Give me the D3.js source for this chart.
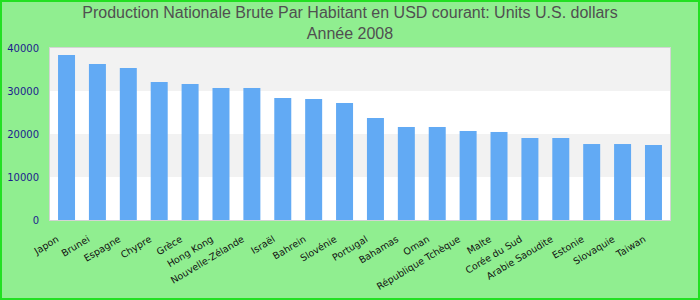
<!DOCTYPE html>
<html>
<head>
<meta charset="utf-8">
<script src="https://cdn.jsdelivr.net/npm/d3@7"></script>
<style>
  body { margin: 0; padding: 0; }
  svg { display: block; }
</style>
</head>
<body>
<div id="chart"></div>
<script>
// Production Nationale Brute par habitant, 2008
const countries = ["Japon", "Brunei", "Espagne", "Chypre", "Grèce", "Hong Kong", "Nouvelle-Zélande",
    "Israël", "Bahrein", "Slovénie", "Portugal", "Bahamas", "Oman", "République Tchèque", "Malte",
    "Corée du Sud", "Arabie Saoudite", "Estonie", "Slovaquie", "Taiwan"];
const values = [38370, 36280, 35350, 32090, 31630, 30700, 30700, 28370, 28140, 27210,
    23720, 21630, 21630, 20700, 20470, 19070, 19070, 17670, 17670, 17440];
const yTicks = [0, 10000, 20000, 30000, 40000];
const titleLines = ["Production Nationale Brute Par Habitant en USD courant: Units U.S. dollars", "Année 2008"];

const width = 700, height = 300;
const margin = {top: 48, right: 30, bottom: 80, left: 50};
const plotW = width - margin.left - margin.right,
    plotH = height - margin.top - margin.bottom;

const svg = d3.select("#chart").append("svg")
    .attr("width", width)
    .attr("height", height);

// background + outer border
svg.append("rect")
    .attr("x", 1).attr("y", 1)
    .attr("width", width - 2).attr("height", height - 2)
    .attr("fill", "#90ee90")
    .attr("stroke", "#22e022")
    .attr("stroke-width", 2);

// title
svg.append("text")
    .attr("x", width / 2)
    .attr("y", 18)
    .attr("text-anchor", "middle")
    .style("font-family", "'Liberation Sans', Arial, sans-serif")
    .style("font-size", "16px")
    .attr("fill", "#505050")
    .selectAll("tspan")
    .data(titleLines)
    .join("tspan")
    .attr("x", width / 2)
    .attr("dy", (d, i) => i === 0 ? 0 : 21)
    .text(d => d);

const g = svg.append("g").attr("transform", "translate(" + margin.left + "," + margin.top + ")");

const x = d3.scaleBand().domain(countries).range([0, plotW]).paddingInner(0.45).paddingOuter(0.26);
const y = d3.scaleLinear().domain([0, 40000]).range([plotH, 0]);

// alternating bands
g.selectAll("rect.band")
    .data(d3.pairs(yTicks))
    .join("rect")
    .attr("class", "band")
    .attr("x", 0)
    .attr("width", plotW)
    .attr("y", d => y(d[1]))
    .attr("height", d => y(d[0]) - y(d[1]))
    .attr("fill", (d, i) => i % 2 === 0 ? "#ffffff" : "#f2f2f2");

// plot frame
g.append("rect")
    .attr("x", -0.5).attr("y", -0.5)
    .attr("width", plotW + 1).attr("height", plotH + 1)
    .attr("fill", "none")
    .attr("stroke", "#d4d4d4");

// bars
g.selectAll("rect.bar")
    .data(values)
    .join("rect")
    .attr("class", "bar")
    .attr("x", (d, i) => x(countries[i]))
    .attr("width", x.bandwidth())
    .attr("y", d => y(d))
    .attr("height", d => plotH - y(d))
    .attr("fill", "#62aaf4");

// y axis
const yAxis = g.append("g")
    .call(d3.axisLeft(y).tickValues(yTicks).tickSize(0).tickPadding(11).tickFormat(d3.format("d")));
yAxis.select(".domain").remove();
yAxis.selectAll("text")
    .style("font-family", "'DejaVu Sans', Verdana, sans-serif")
    .style("font-size", "10px")
    .attr("fill", "#1c1c8e");

// x axis, rotated labels
const xAxis = g.append("g")
    .attr("transform", "translate(0," + plotH + ")")
    .call(d3.axisBottom(x).tickSize(0));
xAxis.select(".domain").remove();
xAxis.selectAll("text")
    .attr("x", 0).attr("y", 0).attr("dy", 0)
    .attr("transform", "translate(-7,21) rotate(-31)")
    .style("text-anchor", "end")
    .style("font-family", "'DejaVu Sans', Verdana, sans-serif")
    .style("font-size", "9.5px")
    .attr("fill", "#111111");
</script>
</body>
</html>
